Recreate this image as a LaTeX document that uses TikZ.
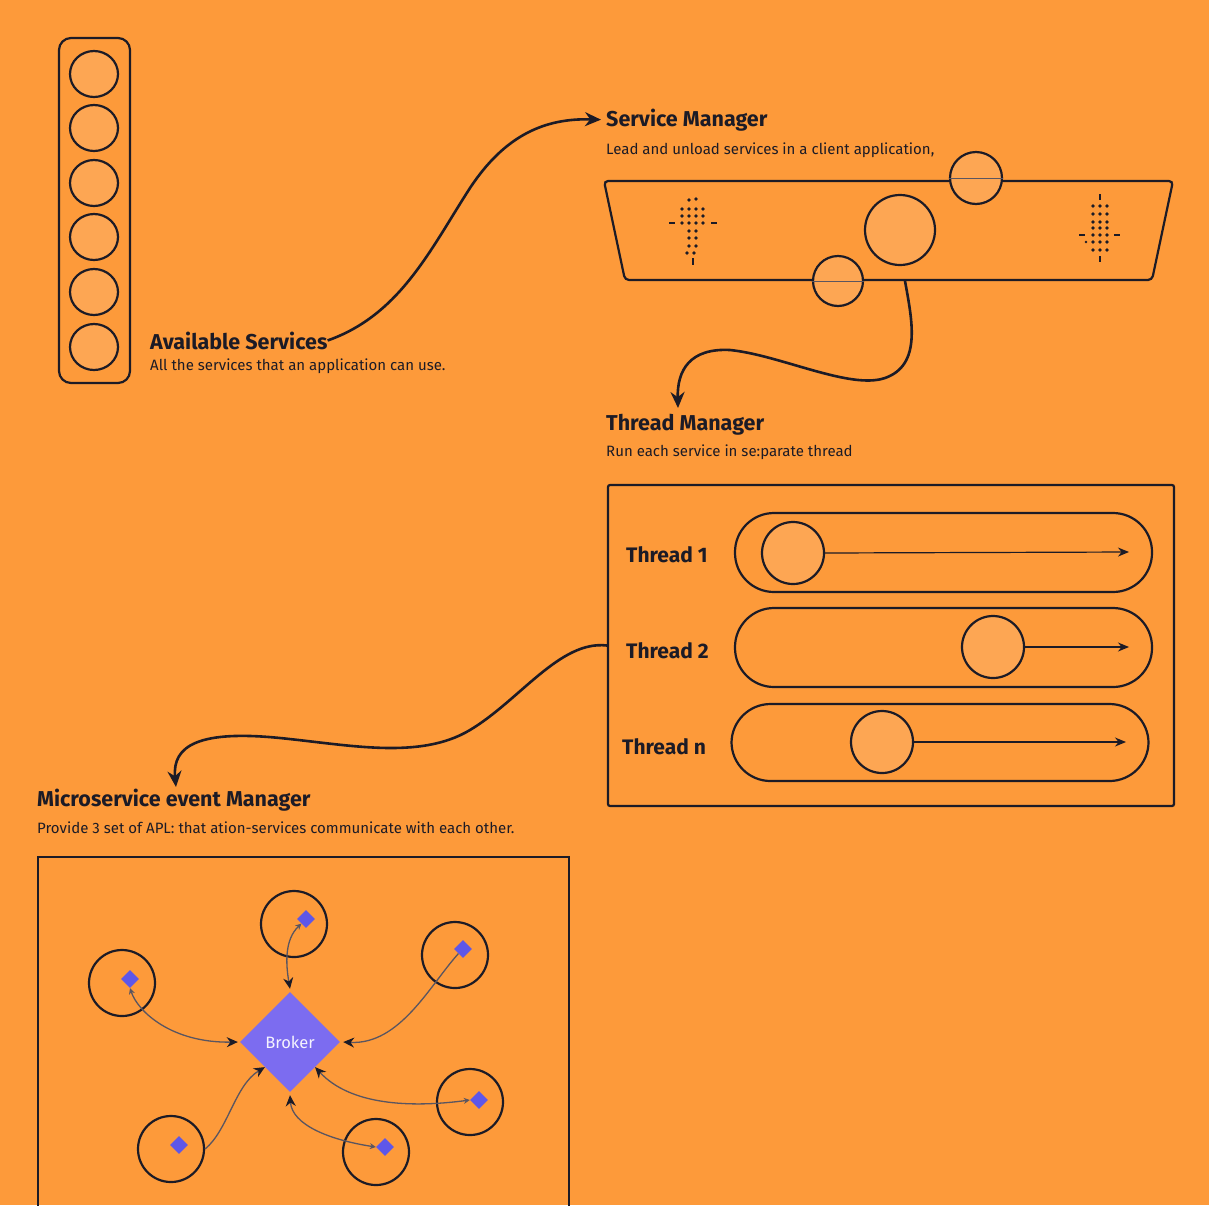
\documentclass[tikz,border=0pt]{standalone}
\usepackage{fontspec}
\setmainfont{Fira Sans}
\usetikzlibrary{arrows.meta,shapes.geometric}

\definecolor{bg}{HTML}{FD9A3A}
\definecolor{bubble}{HTML}{FDA653}
\definecolor{ink}{HTML}{1C1B26}
\definecolor{brokerfill}{HTML}{7C6CF0}
\definecolor{chip}{HTML}{5E57E8}
\definecolor{wire}{HTML}{5A5560}

\tikzset{
  head/.style={anchor=base west, inner sep=0pt, text=ink, font=\fontsize{21.5}{25}\selectfont\bfseries},
  sub/.style={anchor=base west, inner sep=0pt, text=ink, font=\fontsize{15}{18}\selectfont},
  tlabel/.style={anchor=base west, inner sep=0pt, text=ink, font=\fontsize{21}{25}\selectfont\bfseries},
  frame/.style={draw=ink, line width=2.2pt},
  bead/.style={circle, draw=ink, fill=bubble, line width=2.2pt, inner sep=0pt},
  slot/.style={ellipse, draw=ink, fill=bubble, line width=2.2pt, inner sep=0pt, minimum width=48pt, minimum height=46pt},
  pill/.style={draw=ink, line width=2.2pt, rounded corners=39pt, minimum width=417pt, minimum height=79pt, inner sep=0pt},
  ring/.style={circle, draw=ink, line width=2.2pt, minimum size=66pt, inner sep=0pt},
  chipn/.style={diamond, fill=chip, minimum width=18pt, minimum height=18pt, inner sep=0pt},
  flow/.style={draw=ink, line width=2.6pt, -{Stealth[length=16pt,width=14pt]}},
  run/.style={draw=ink, line width=1.2pt, -{Stealth[length=11pt,width=9pt]}},
  link/.style={draw=wire, line width=1.3pt, -{Stealth[length=11pt,width=10pt,color=ink]}},
  blink/.style={draw=wire, line width=1.3pt, {Stealth[length=6pt,width=6pt,color=wire]}-{Stealth[length=11pt,width=10pt,color=ink]}},
  dotp/.style={fill=ink},
}

\begin{document}
\begin{tikzpicture}[x=1pt,y=-1pt]
\fill[bg] (0,0) rectangle (1209,1205);
\useasboundingbox (0,0) rectangle (1209,1205);

% ---------- Available services ----------
\node[frame, rounded corners=12pt, minimum width=71pt, minimum height=345pt, inner sep=0pt] (avail) at (94.5,210.5) {};
\foreach \y [count=\i] in {74,128,183,237,292,347}
  \node[slot] (s\i) at (94,\y) {};
\node[head] (availT) at (150,349) {Available Services};
\node[sub] (availS) at (150,370) {All the services that an application can use.};

% ---------- Service manager ----------
\node[head] (smT) at (606,126) {Service Manager};
\node[sub] (smS) at (606,154) {Lead and unload services in a client application,};
\draw[frame, rounded corners=4pt] (604,181) -- (1173,181) -- (1152,280) -- (625,280) -- cycle;
\node[bead, minimum size=52pt] (smTop) at (976,178) {};
\draw[wire, line width=1pt] (smTop.west) -- (smTop.east);
\node[bead, minimum size=70pt] (smMid) at (900,230) {};
\node[bead, minimum size=50pt] (smBot) at (838,281) {};
\draw[wire, line width=1pt] (smBot.west) -- (smBot.east);
\coordinate (smOut) at (905,281);

% dotted upward marker
\foreach \x/\y in {689/200,696/199,
  682/209,689/209,696/209,703/209,
  682/216,689/216,696/216,703/216,
  682/223,689/223,696/223,703/223,
  689/231,696/231,689/238,696/238,689/246,696/246,687/253,694/253}
  \fill[dotp] (\x,\y) circle (1.8pt);
\draw[ink, line width=2.4pt] (669,223) -- (675,223) (711,223) -- (717,223) (693,258) -- (693,265);

% dotted downward marker
\foreach \y in {206,214,222,228,235,242,250}
  \foreach \x in {1093,1100,1107}
    \fill[dotp] (\x,\y) circle (1.8pt);
\fill[dotp] (1086,242) circle (1.4pt);
\draw[ink, line width=2.4pt] (1100,194) -- (1100,200) (1100,256) -- (1100,262)
  (1079,235) -- (1085,235) (1114,235) -- (1120,235);

% ---------- Thread manager ----------
\node[head] (tmT) at (606,430) {Thread Manager};
\node[sub] (tmS) at (606,456) {Run each service in se:parate thread};
\node[frame, rectangle, rounded corners=2pt, minimum width=566pt, minimum height=321pt, inner sep=0pt] (tbox) at (891,645.5) {};

\node[tlabel] (t1) at (626,562) {Thread 1};
\node[tlabel] (t2) at (626,658) {Thread 2};
\node[tlabel] (tn) at (622,754) {Thread n};

\node[pill] (p1) at (943.5,552.5) {};
\node[pill] (p2) at (943.5,647.5) {};
\node[pill, minimum height=77pt] (pn) at (940,742.5) {};

\node[bead, minimum size=62pt] (b1) at (793,553) {};
\node[bead, minimum size=62pt] (b2) at (993,647) {};
\node[bead, minimum size=62pt] (bn) at (882,742) {};
\coordinate (e1) at (1129,552);
\coordinate (e2) at (1129,647);
\coordinate (en) at (1126,742);
\draw[run] (b1.east) -- (e1);
\draw[run] (b2.east) -- (e2);
\draw[run] (bn.east) -- (en);

% ---------- Microservice event manager ----------
\node[head] (meT) at (37,806) {Microservice event Manager};
\node[sub] (meS) at (37,833) {Provide 3 set of APL: that ation-services communicate with each other.};
\draw[frame] (38,1212) -- (38,857) -- (569,857) -- (569,1212);

\node[diamond, fill=brokerfill, minimum width=100pt, minimum height=100pt, inner sep=0pt,
      text=white!92!brokerfill, font=\fontsize{16.5}{19}\selectfont] (broker) at (290,1042) {Broker};

\node[ring] (rT)  at (294,924) {};
\node[ring] (rL)  at (122,983) {};
\node[ring] (rTR) at (455,955) {};
\node[ring] (rR)  at (470,1102) {};
\node[ring] (rBM) at (376,1152) {};
\node[ring] (rBL) at (171,1149) {};

\node[chipn] (cT)  at (306,919) {};
\node[chipn] (cL)  at (130,979) {};
\node[chipn] (cTR) at (463,949) {};
\node[chipn] (cR)  at (479,1100) {};
\node[chipn] (cBM) at (385,1147) {};
\node[chipn] (cBL) at (179,1145) {};

\draw[blink] (cT.south west) .. controls (284,940) and (286,965) .. ([yshift=3pt]broker.north);
\draw[blink] (cL.south) .. controls (138,1012) and (172,1043) .. ([xshift=-2pt]broker.west);
\draw[link] (cTR.south west) .. controls (430,985) and (400,1045) .. ([xshift=3pt]broker.east);
\draw[blink] (cR.west) .. controls (410,1108) and (350,1105) .. (broker.south east);
\draw[blink] (cBM.west) .. controls (330,1140) and (292,1125) .. ([yshift=-3pt]broker.south);
\draw[link] (rBL.east) .. controls (228,1130) and (235,1085) .. (broker.south west);

% ---------- flow between sections ----------
\draw[flow] (availT.east) .. controls (400,315) and (430,250) .. (470,188)
  .. controls (505,135) and (545,118) .. ([xshift=-5pt]smT.west);
\coordinate (tmIn) at (678,408);
\draw[flow] (smOut) .. controls (912,320) and (922,365) .. (885,378)
  .. controls (850,390) and (780,355) .. (730,350)
  .. controls (690,348) and (677,370) .. (tmIn);
\coordinate (meIn) at (176,787);
\draw[flow] (tbox.west) .. controls (560,640) and (520,700) .. (470,730)
  .. controls (420,760) and (350,745) .. (280,738)
  .. controls (200,730) and (172,745) .. (meIn);
\end{tikzpicture}
\end{document}
